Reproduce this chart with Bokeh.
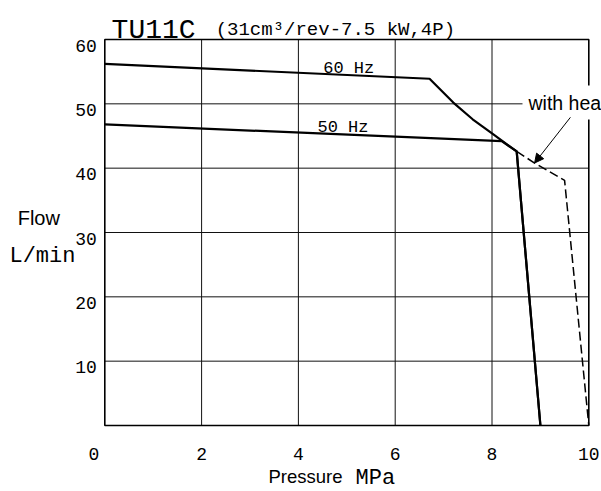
from bokeh.plotting import figure
from bokeh.models import Range1d, Label, Arrow, NormalHead
from bokeh.core.properties import value
from bokeh.embed import file_html
from bokeh.resources import INLINE

# ---- data ----
pressure_60 = [0.0, 6.71, 7.2, 7.6, 8.0, 8.51, 9.0]
flow_60 = [56.2, 53.9, 50.2, 47.6, 45.4, 42.6, 0.0]
pressure_50 = [0.0, 8.2, 8.51, 9.0]
flow_50 = [46.8, 44.2, 42.6, 0.0]
pressure_heater = [8.51, 8.88, 9.5, 10.0]
flow_heater = [42.6, 40.8, 38.1, 0.0]
x_lim = [0, 10]
y_lim = [0, 60]
x_ticks = [2, 4, 6, 8, 10]
y_ticks = [10, 20, 30, 40, 50, 60]
grid_x = [2, 4, 6, 8]
grid_y = [10, 20, 30, 40, 50]

MONO = "Liberation Mono"
SANS = "Liberation Sans"

# canvas; the chart box spans pixels 104..588 (x) and 39..425 (y)
W, H = 601, 491
BOX_L, BOX_R, BOX_T, BOX_B = 104.3, 588.3, 39.0, 425.0
sx = (BOX_R - BOX_L) / (x_lim[1] - x_lim[0])
sy = (BOX_B - BOX_T) / (y_lim[1] - y_lim[0])
x_range = Range1d(x_lim[0] - BOX_L / sx, x_lim[1] + (W - BOX_R) / sx)
y_range = Range1d(y_lim[0] - (H - BOX_B) / sy, y_lim[1] + BOX_T / sy)

p = figure(width=W, height=H, output_backend="svg", toolbar_location=None,
           x_range=x_range, y_range=y_range,
           x_axis_location=None, y_axis_location=None, min_border=0)
p.outline_line_color = None
p.grid.visible = False
p.background_fill_color = "white"
p.border_fill_color = "white"

# grid and chart box
n_gx, n_gy = len(grid_x), len(grid_y)
p.segment(x0=grid_x, y0=[y_lim[0]] * n_gx, x1=grid_x, y1=[y_lim[1]] * n_gx,
          line_color="#111111", line_width=1)
p.segment(x0=[x_lim[0]] * n_gy, y0=grid_y, x1=[x_lim[1]] * n_gy, y1=grid_y,
          line_color="#111111", line_width=1)
p.quad(left=[x_lim[0]], right=[x_lim[1]], bottom=[y_lim[0]], top=[y_lim[1]],
       fill_color=None, line_color="black", line_width=1.6)

# tick labels
p.text(x=x_ticks, y=[y_lim[0]] * len(x_ticks), text=[str(t) for t in x_ticks],
       text_font=value(MONO), text_font_size="18px", text_color="black",
       text_align="center", text_baseline="alphabetic", y_offset=28)
p.text(x=[x_lim[0]], y=[y_lim[0]], text=["0"],
       text_font=value(MONO), text_font_size="18px", text_color="black",
       text_align="center", text_baseline="alphabetic", x_offset=-11, y_offset=28)
p.text(x=[x_lim[0]] * len(y_ticks), y=y_ticks, text=[str(t) for t in y_ticks],
       text_font=value(MONO), text_font_size="18px", text_color="black",
       text_align="right", text_baseline="alphabetic", x_offset=-8, y_offset=6)

# curves
p.line(pressure_60, flow_60, line_color="black", line_width=2.2)
p.line(pressure_50, flow_50, line_color="black", line_width=2.2)
p.line(pressure_heater, flow_heater, line_color="black", line_width=1.5, line_dash="9 4")

def txt(t, x, y, font, size, align="left"):
    p.text(x=[x], y=[y], text=[t], text_font=value(font), text_font_size=size,
           text_color="black", text_align=align, text_baseline="alphabetic")

txt("TU11C", 0.14, 61.4, MONO, "28px")
txt("(31cm³/rev-7.5 kW,4P)", 2.29, 61.4, MONO, "19px")
txt("60 Hz", 5.04, 55.5, MONO, "17px", align="center")
txt("50 Hz", 4.92, 46.3, MONO, "17px", align="center")
txt("Flow", -1.80, 32.3, SANS, "20px")
txt("L/min", -1.97, 26.2, MONO, "22px")
txt("Pressure", 3.38, -7.9, SANS, "18.5px")
txt("MPa", 5.18, -8.25, MONO, "22px")

p.add_layout(Label(x=8.63, y=50.2, text="with hea", text_font=SANS, text_font_size="19.5px",
                   text_color="black", text_baseline="alphabetic",
                   background_fill_color="white", padding=6))
p.add_layout(Arrow(end=NormalHead(size=9, fill_color="black", line_color="black"),
                   x_start=9.62, y_start=47.9, x_end=pressure_heater[1], y_end=flow_heater[1],
                   line_color="black", line_width=1))

open("out.html", "w").write(file_html(p, INLINE))
